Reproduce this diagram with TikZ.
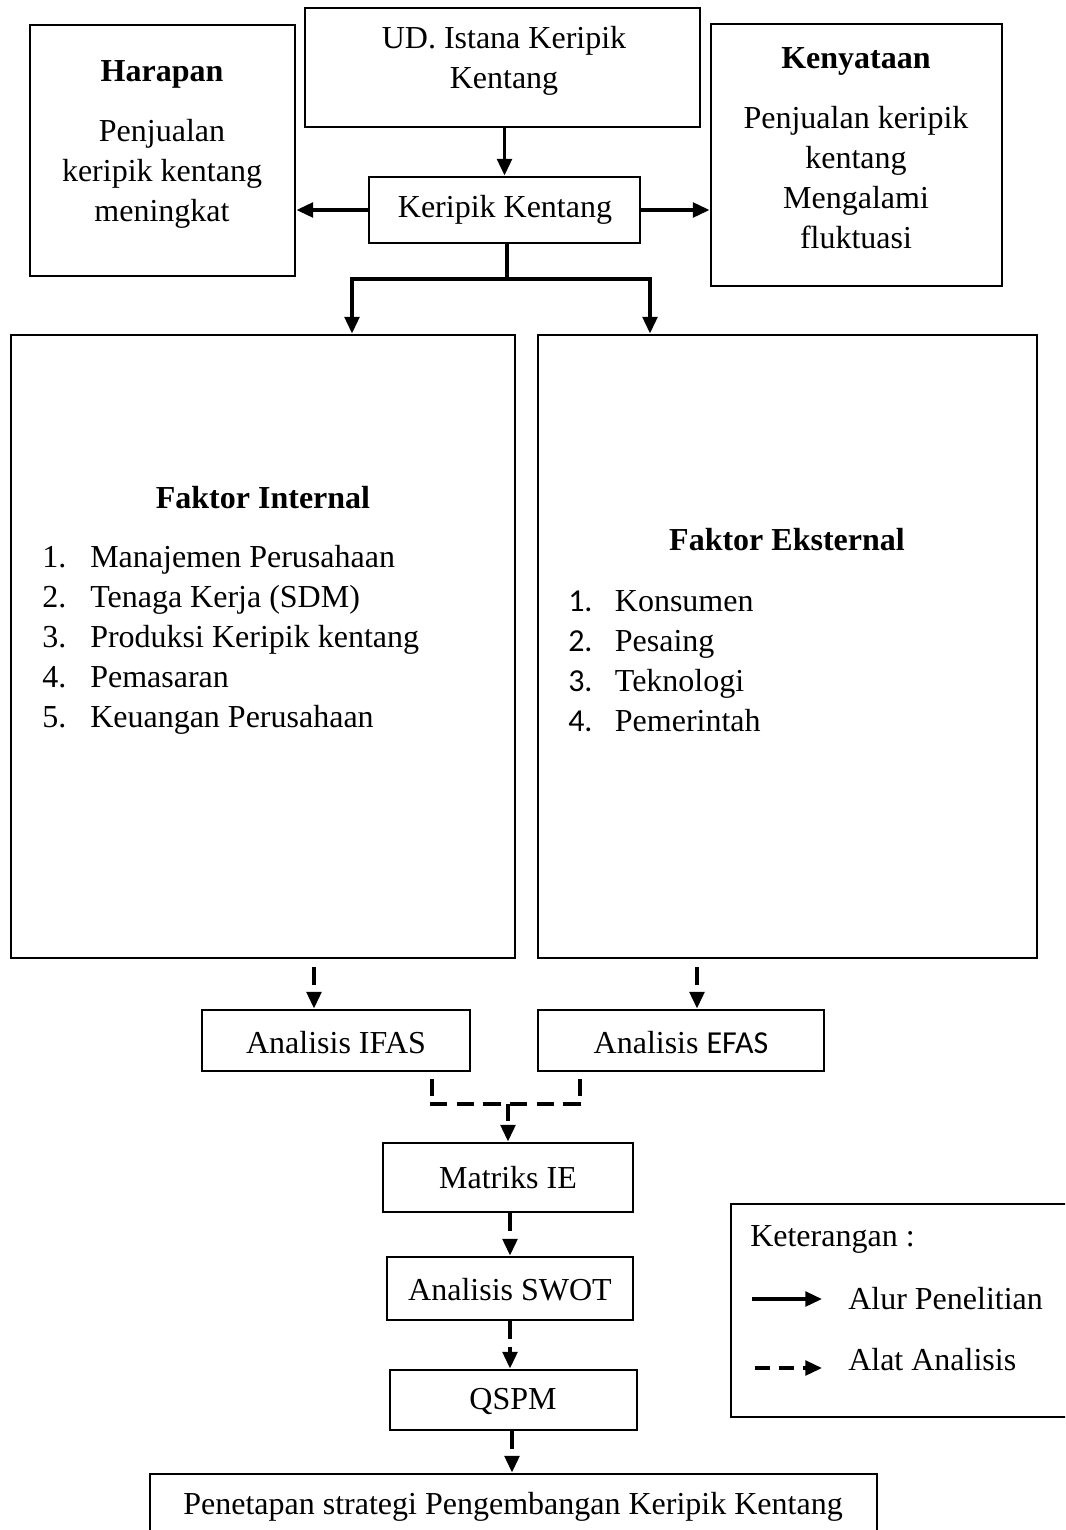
\documentclass[tikz,border=0pt]{standalone}
\usepackage{fontspec}
\setmainfont{Liberation Serif}
\newfontfamily\calibri{Carlito}
\usetikzlibrary{arrows.meta,fit}
\begin{document}
\begin{tikzpicture}[x=0.75pt,y=-0.75pt,
  every node/.style={font=\fontsize{24}{30}\selectfont},
  box/.style={draw, line width=2.2pt, inner sep=0pt},
  txt/.style={inner sep=0pt, align=center},
  ltxt/.style={inner sep=0pt, align=left},
  tip/.style={-{Triangle[length=12.5pt,width=11pt]}},
  solidarrow/.style={line width=2.6pt, tip},
  solidline/.style={line width=2.6pt},
  dasharrow/.style={line width=2.6pt, dash pattern=on 13pt off 6pt, tip},
  dashline/.style={line width=2.6pt, dash pattern=on 13pt off 7pt}]
\clip (0,0) rectangle (1065,1530);
\fill[white] (0,0) rectangle (1065,1530);

% top boxes
\node[box, fit={(305,8) (700,127)}] (ud) {};
\node[txt] (udt) at (504,61) {UD. Istana Keripik\\Kentang};
\node[box, fit={(30,25) (295,276)}] (hp) {};
\node[txt] (hpt) at (162,144) {\textbf{Harapan}\\[15pt]Penjualan\\keripik kentang\\meningkat};
\node[box, fit={(711,24) (1002,286)}] (ky) {};
\node[txt] (kyt) at (856,148) {\textbf{Kenyataan}\\[15pt]Penjualan keripik\\kentang\\Mengalami\\fluktuasi};
\node[box, fit={(369,177) (640,243)}] (kk) {};
\node[txt] (kkt) at (505,210) {Keripik Kentang};

% factor boxes
\node[box, fit={(11,335) (515,958)}] (fi) {};
\node[txt] (fit) at (263,498) {\textbf{Faktor Internal}};
\node[ltxt, anchor=west] (fil) at (42,640) {\makebox[36pt][l]{1.}Manajemen Perusahaan\\
\makebox[36pt][l]{2.}Tenaga Kerja (SDM)\\
\makebox[36pt][l]{3.}Produksi Keripik kentang\\
\makebox[36pt][l]{4.}Pemasaran\\
\makebox[36pt][l]{5.}Keuangan Perusahaan};
\node[box, fit={(538,335) (1037,958)}] (fe) {};
\node[txt] (fet) at (787,540) {\textbf{Faktor Eksternal}};
\node[ltxt, anchor=west] (fel) at (568,661) {\makebox[35pt][l]{\calibri 1.}Konsumen\\
\makebox[35pt][l]{\calibri 2.}Pesaing\\
\makebox[35pt][l]{\calibri 3.}Teknologi\\
\makebox[35pt][l]{\calibri 4.}Pemerintah};

% analysis boxes
\node[box, fit={(202,1010) (470,1071)}] (ifas) {};
\node[txt] (ifast) at (336,1043) {Analisis IFAS};
\node[box, fit={(538,1010) (824,1071)}] (efas) {};
\node[txt] (efast) at (681,1043) {Analisis {\calibri EFAS}};
\node[box, fit={(383,1143) (633,1212)}] (ie) {};
\node[txt] (iet) at (508,1178) {Matriks IE};
\node[box, fit={(387,1257) (633,1320)}] (swot) {};
\node[txt] (swott) at (510,1290) {Analisis SWOT};
\node[box, fit={(390,1370) (637,1430)}] (qspm) {};
\node[txt] (qspmt) at (513,1401) {QSPM};
\node[box, fit={(150,1474) (877,1570)}] (fin) {};
\node[txt] (fint) at (513,1507) {Penetapan strategi Pengembangan Keripik Kentang};

% legend
\node[box, fit={(731,1204) (1085,1417)}] (leg) {};
\node[ltxt, anchor=west] (legt) at (750,1239) {Keterangan :};
\coordinate (ls1) at (752,1299);
\coordinate (le1) at (822,1299);
\node[ltxt, anchor=west] (leg1) at (848,1299) {Alur Penelitian};
\coordinate (ls2) at (755,1368);
\coordinate (le2) at (822,1368);
\node[ltxt, anchor=west] (leg2) at (848,1360) {Alat Analisis};
\draw[solidarrow] (ls1) -- (le1);
\draw[line width=2.6pt, dash pattern=on 11pt off 7pt, tip] (ls2) -- (le2);

% solid connectors
\draw[solidarrow] (ud.south -| kk) -- (kk.north);
\draw[solidarrow] (kk.west) -- (kk.west -| hp.east);
\draw[solidarrow] (kk.east) -- (kk.east -| ky.west);
\coordinate (sp) at (507,279);
\coordinate (la) at (352,279);
\coordinate (ra) at (650,279);
\draw[solidline] (kk.south -| sp) -- (sp);
\draw[solidarrow] (sp) -- (la) -- (la |- fi.north);
\draw[solidarrow] (sp) -- (ra) -- (ra |- fe.north);

% dashed connectors
\coordinate (x1) at (314,0);
\coordinate (x2) at (697,0);
\draw[dasharrow, shorten <=6pt] (x1 |- fi.south) -- (x1 |- ifas.north);
\draw[dasharrow, shorten <=6pt] (x2 |- fe.south) -- (x2 |- efas.north);
\coordinate (m1) at (432,1104);
\coordinate (m2) at (580,1104);
\coordinate (mc) at (508,1104);
\draw[dashline, shorten <=5pt] (m1 |- ifas.south) -- (m1);
\draw[dashline, shorten <=5pt] (m2 |- efas.south) -- (m2);
\draw[dashline] (430,1104) -- (590,1104);
\draw[dasharrow] (mc) -- (mc |- ie.north);
\draw[dasharrow] (ie.south -| 510,0) -- (swot.north -| 510,0);
\draw[dasharrow] (swot.south -| 510,0) -- (qspm.north -| 510,0);
\draw[dasharrow] (qspm.south -| 512,0) -- (fin.north -| 512,0);
\end{tikzpicture}
\end{document}
